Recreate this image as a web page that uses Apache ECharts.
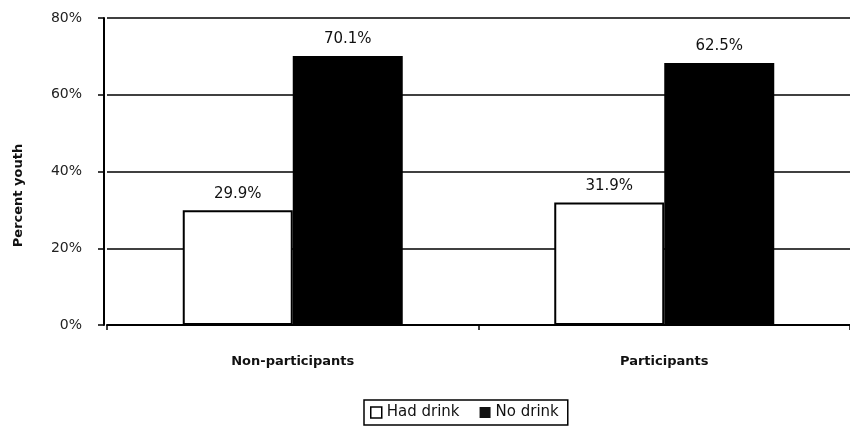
<!DOCTYPE html>
<html>
<head>
<meta charset="utf-8">
<script src="https://cdn.jsdelivr.net/npm/echarts@6/dist/echarts.min.js"></script>
<style>html,body{margin:0;padding:0;background:#fff;}#c{width:850px;height:448px;}</style>
</head>
<body>
<div id="c"></div>
<script>
var categories = ['Non-participants', 'Participants'];
var hadDrink = [29.9, 31.9];
var noDrink = [70.1, 68.3];
var hadDrinkLabels = ['29.9%', '31.9%'];
var noDrinkLabels = ['70.1%', '62.5%'];
var yTicks = [0, 20, 40, 60, 80];

var font = 'DejaVu Sans';
var chart = echarts.init(document.getElementById('c'), null, {renderer: 'canvas'});
chart.setOption({
  animation: false,
  backgroundColor: '#fff',
  grid: {left: 107, right: 0, top: 18, bottom: 123, containLabel: false},
  legend: {
    left: 364, top: 400,
    padding: [5, 9, 5, 6],
    borderColor: '#000', borderWidth: 1.5,
    icon: 'rect',
    itemWidth: 11, itemHeight: 11, itemGap: 20,
    textStyle: {fontFamily: font, fontSize: 15, color: '#111'},
    data: [
      {name: 'Had drink', itemStyle: {color: '#fff', borderColor: '#000', borderWidth: 1.5}},
      {name: 'No drink', itemStyle: {color: '#111'}}
    ]
  },
  xAxis: {
    type: 'category', data: categories,
    axisLine: {lineStyle: {color: '#000', width: 2}},
    axisTick: {show: true, length: 5, lineStyle: {color: '#000', width: 1.5}},
    axisLabel: {margin: 30, fontFamily: font, fontSize: 13, fontWeight: 'bold', color: '#111'}
  },
  yAxis: {
    type: 'value', min: yTicks[0], max: yTicks[yTicks.length - 1], interval: 20, offset: 3,
    name: 'Percent youth', nameLocation: 'middle', nameGap: 79, nameRotate: 90,
    nameTextStyle: {fontFamily: font, fontSize: 13, fontWeight: 'bold', color: '#111', padding: [0, 48, 0, 0]},
    axisLine: {show: true, lineStyle: {color: '#000', width: 2}},
    axisTick: {show: true, inside: false, length: 6, lineStyle: {color: '#000', width: 1.5}},
    axisLabel: {margin: 22, fontFamily: font, fontSize: 14, color: '#222', formatter: function(v){return v + '%';}},
    splitLine: {show: true, lineStyle: {color: '#000', width: 1.5}}
  },
  series: [
    {
      name: 'Had drink', type: 'bar', data: hadDrink, barWidth: 110, barGap: '0%',
      itemStyle: {color: '#fff', borderColor: '#000', borderWidth: 2},
      label: {show: true, position: 'top', distance: 9, fontFamily: font, fontSize: 15, color: '#111',
        formatter: function(p){return hadDrinkLabels[p.dataIndex];}}
    },
    {
      name: 'No drink', type: 'bar', data: noDrink, barWidth: 110,
      itemStyle: {color: '#000'},
      label: {show: true, position: 'top', distance: 9, fontFamily: font, fontSize: 15, color: '#111',
        formatter: function(p){return noDrinkLabels[p.dataIndex];}}
    }
  ]
});
</script>
</body>
</html>
